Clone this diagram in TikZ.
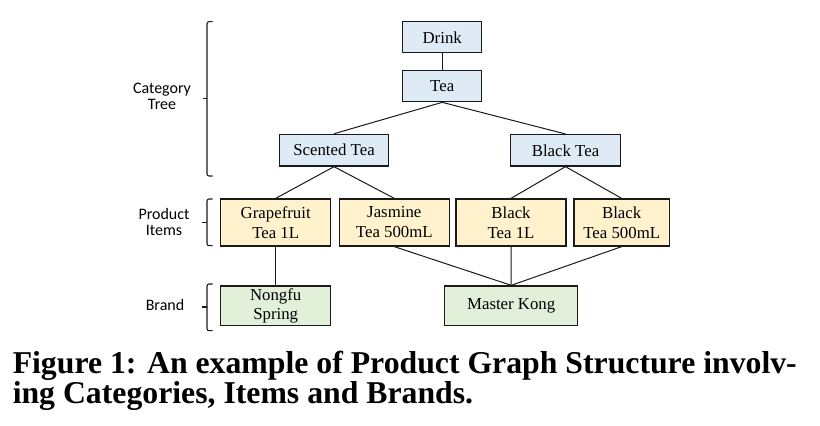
\documentclass[tikz,border=0pt]{standalone}
\usepackage{fontspec}
\usepackage{graphicx}
\newfontfamily\calibrifont{Carlito}
\newfontfamily\capfont{Liberation Serif}
\newfontfamily\boxfont{Liberation Serif}
\newcommand\pxu{0.75pt}
\definecolor{catfill}{HTML}{DEEBF7}
\definecolor{itemfill}{HTML}{FFF2CC}
\definecolor{brandfill}{HTML}{E2F0D9}
\definecolor{edgeclr}{HTML}{1A1A1A}
\begin{document}
\begin{tikzpicture}[x=0.75pt,y=-0.75pt,
  box/.style={draw=edgeclr,line width=0.95pt,inner sep=0pt,align=center,
    font=\boxfont\fontsize{12.6}{15}\selectfont,text=black},
  catbox/.style={box,fill=catfill,minimum height=31*\pxu},
  itembox/.style={box,fill=itemfill,minimum height=47*\pxu},
  brandbox/.style={box,fill=brandfill,minimum height=39.7*\pxu},
  link/.style={draw=edgeclr,line width=0.75pt},
  brace/.style={draw=edgeclr,line width=0.8pt,rounded corners=1.5pt},
  sidelabel/.style={inner sep=0pt,align=center,font=\calibrifont\fontsize{12}{12}\selectfont}
]
\useasboundingbox (0,0) rectangle (820,425);

% category tree
\node[catbox,minimum width=79*\pxu] (drink) at (442.2,37.2) {Drink};
\node[catbox,minimum width=79*\pxu] (tea) at (442.2,86.2) {Tea};
\node[catbox,minimum width=109.5*\pxu,minimum height=31.7*\pxu] (scented) at (334,150.2) {Scented Tea};
\node[catbox,minimum width=109.6*\pxu,minimum height=31.4*\pxu] (blacktea) at (565.5,150.3) {Black Tea};

% product items
\node[itembox,minimum width=110*\pxu] (grape) at (275.7,222.5) {Grapefruit\\Tea 1L};
\node[itembox,minimum width=110*\pxu] (jasmine) at (394.3,222.5) {Jasmine\\Tea 500mL};
\node[itembox,minimum width=110*\pxu] (black1) at (511,222.5) {Black\\Tea 1L};
\node[itembox,minimum width=95.3*\pxu] (black500) at (621.7,222.5) {Black\\Tea 500mL};

% brands
\node[brandbox,minimum width=110*\pxu,font=\boxfont\fontsize{12.6}{14.5}\selectfont] (nongfu) at (275.7,305.8) {Nongfu\\Spring};
\node[brandbox,minimum width=133*\pxu] (mk) at (511.2,305.8) {Master Kong};

% connectors
\draw[link] (drink.south) -- (tea.north);
\draw[link] (tea.south) -- (scented.north);
\draw[link] (tea.south) -- (blacktea.north);
\draw[link] (scented.south) -- (grape.north);
\draw[link] (scented.south) -- (jasmine.north);
\draw[link] (blacktea.south) -- (black1.north);
\draw[link] (blacktea.south) -- (black500.north);
\draw[link] (grape.south) -- (nongfu.north);
\draw[link] (jasmine.south) -- (mk.north);
\draw[link] (black1.south) -- (mk.north);
\draw[link] (black500.south) -- (mk.north);

% side labels
\node[sidelabel] (lcat) at (162,96.5) {Category\\Tree};
\node[sidelabel] (litem) at (164,222) {Product\\Items};
\node[sidelabel,anchor=base] (lbrand) at (165,310.7) {Brand};

% brackets
\draw[brace] (212.5,21.7) -- (207,21.7) -- (207,176) -- (212.5,176);
\draw[brace] (207,98.7) -- (202.5,98.7);
\draw[brace] (212.5,199) -- (207,199) -- (207,245.7) -- (212.5,245.7);
\draw[brace] (207,222.7) -- (201.5,222.7);
\draw[brace] (212.5,284) -- (207,284) -- (207,330.7) -- (212.5,330.7);
\draw[brace] (207,307) -- (201.5,307);

% caption
\node[anchor=base west,inner sep=0pt] (caption) at (12.5,373.3)
  {\resizebox{588pt}{!}{\vtop{\capfont\bfseries\fontsize{24}{24}\selectfont\baselineskip=21.4pt
     \hbox{Figure 1: An example of Product Graph Structure involv-}
     \hbox{ing Categories, Items and Brands.}}}};
\end{tikzpicture}
\end{document}
